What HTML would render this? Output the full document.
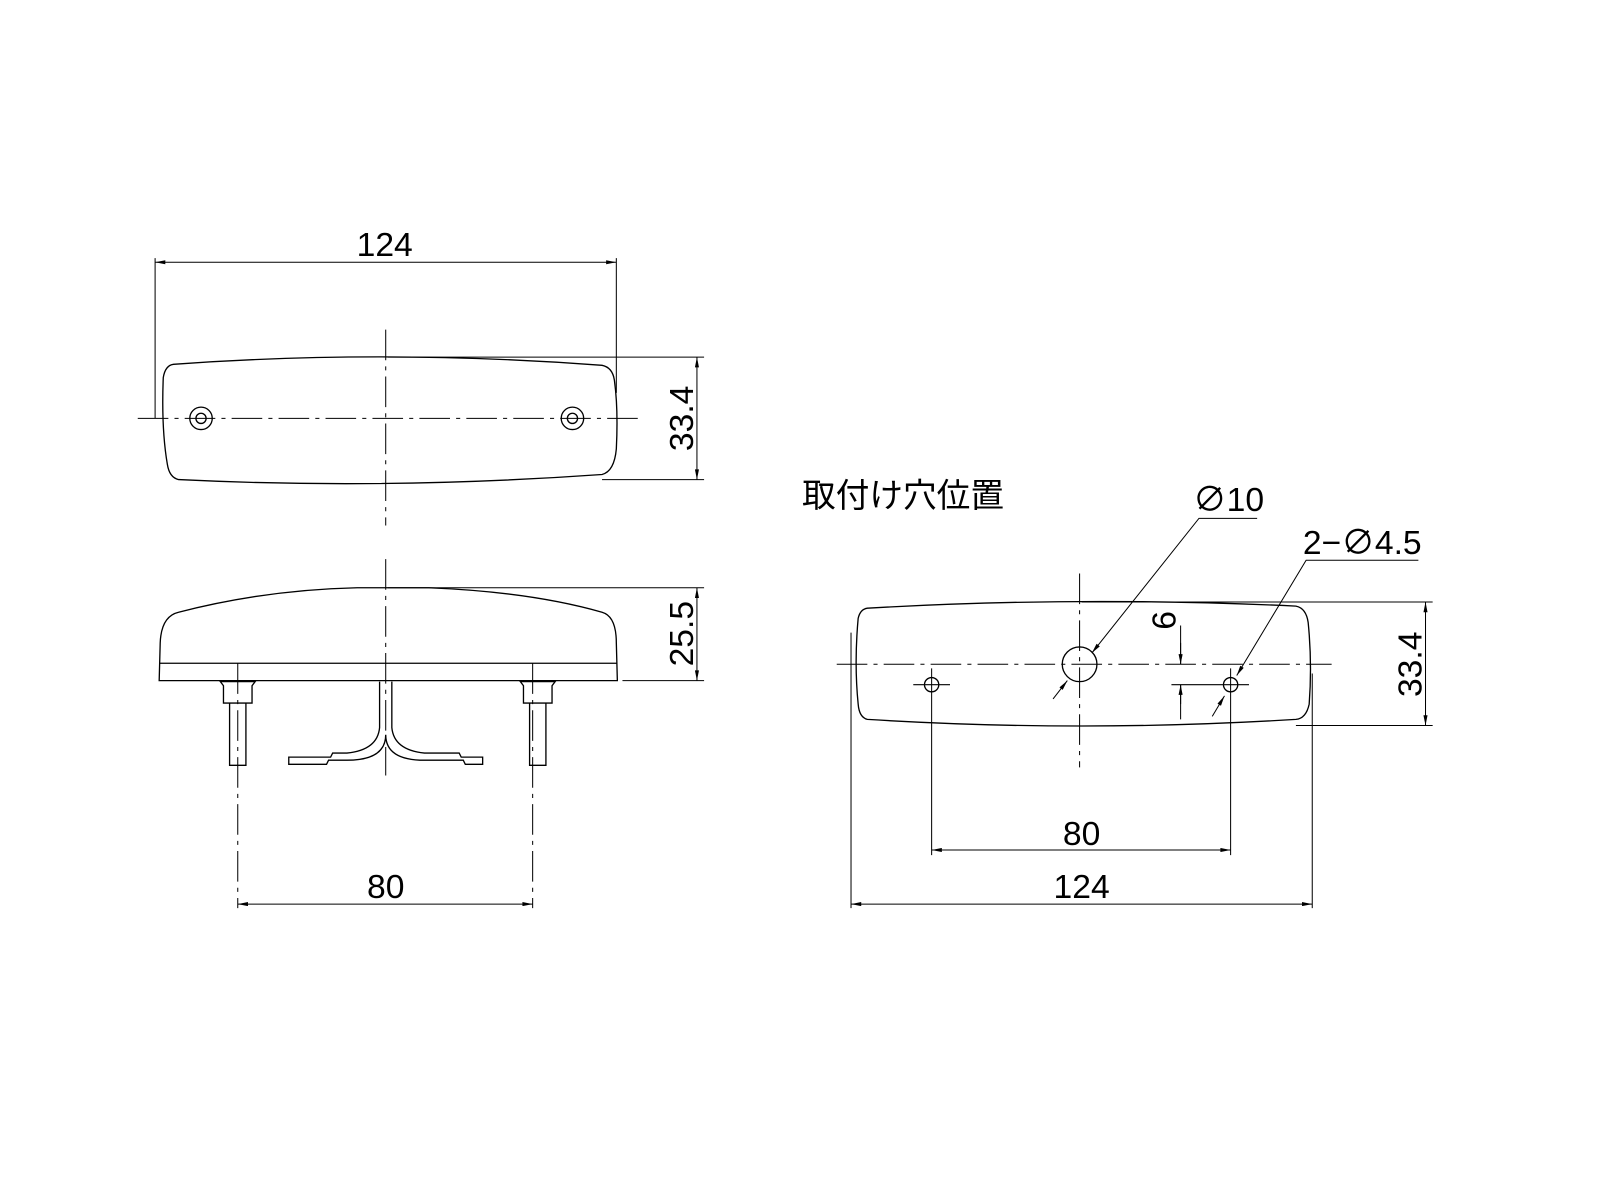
<!DOCTYPE html>
<html><head><meta charset="utf-8"><style>html,body{margin:0;padding:0;background:#fff}svg{display:block}</style></head><body>
<svg width="1600" height="1200" viewBox="0 0 1568 1176" xmlns="http://www.w3.org/2000/svg" font-family="'Liberation Sans','Noto Sans CJK JP',sans-serif">
<defs><marker id="a" viewBox="0 0 10 4" refX="10" refY="2" markerWidth="12" markerHeight="4" markerUnits="userSpaceOnUse" orient="auto-start-reverse"><path d="M0,0L10,2L0,4z" fill="#000"/></marker></defs>
<g fill="none" stroke="#000" stroke-width="1.3">
<path d="M170,357 Q378,342 590,358 Q600,360 602,372 Q606,400 604,440 Q602,462 590,465 Q378,480 175,470 Q166,468 164,455 Q158,420 160,370 Q162,358 170,357Z"/>
<circle cx="197" cy="410" r="11"/><circle cx="197" cy="410" r="5"/>
<circle cx="561" cy="410" r="11"/><circle cx="561" cy="410" r="5"/>
<path d="M135,410H625M378,323V515" stroke-dasharray="30,6,4,6" stroke-width="1"/>
<path d="M152,253V410M604,253V385M380,350H690M590,470H690" stroke-width="1"/>
<path d="M152,257H604" marker-start="url(#a)" marker-end="url(#a)" stroke-width="1"/>
<path d="M683,350V470" marker-start="url(#a)" marker-end="url(#a)" stroke-width="1"/>
<path d="M156,667 L157,630 Q158,604 175,600 Q260,578 350,576 L420,576 Q520,580 590,600 Q604,604 604,630 L605,667 Z"/>
<path d="M156,650H605"/>
<path d="M378,548V760" stroke-dasharray="30,6,4,6" stroke-width="1"/>
<path d="M216,668h34l-3,4v17h-28v-17z M225,689V750h16V689 M510,668h34l-3,4v17h-28v-17z M519,689V750h16V689"/>
<path d="M372,668V713Q370,735 340,738H326L324,742H283V749H320L322,745H340Q378,745 378,720 M384,668V713Q386,735 416,738H450L452,742H473V749H456L454,745H416Q378,745 378,720"/>
<path d="M233,650V890M522,650V890" stroke-dasharray="30,6,4,6" stroke-width="1"/>
<path d="M380,576H690M610,667H690" stroke-width="1"/>
<path d="M683,576V667" marker-start="url(#a)" marker-end="url(#a)" stroke-width="1"/>
<path d="M233,886H522" marker-start="url(#a)" marker-end="url(#a)" stroke-width="1"/>
<path d="M850,596 Q1060,584 1270,594 Q1280,596 1282,610 Q1286,650 1283,690 Q1280,704 1270,705 Q1060,718 850,705 Q842,703 841,690 Q837,650 841,606 Q843,597 850,596Z"/>
<path d="M820,651H1305" stroke-dasharray="30,6,4,6" stroke-width="1"/>
<path d="M1058,562V752" stroke-dasharray="30,6,4,6" stroke-width="1"/>
<circle cx="1058" cy="651" r="17"/>
<circle cx="913" cy="671" r="7"/><circle cx="1206" cy="671" r="7"/>
<path d="M895,671H931M1190,671H1224M1148,671H1212M1206,655V838M913,655V838M834,620V890M1286,660V890M1060,590H1404M1270,711H1404" stroke-width="1"/>
<path d="M1157,651V613M1157,671V705" stroke-width="1"/>
<path d="M1157,630V651" marker-end="url(#a)" stroke-width="1"/>
<path d="M1157,690V671" marker-end="url(#a)" stroke-width="1"/>
<path d="M1397,590V711" marker-start="url(#a)" marker-end="url(#a)" stroke-width="1"/>
<path d="M913,833H1206" marker-start="url(#a)" marker-end="url(#a)" stroke-width="1"/>
<path d="M834,886H1286" marker-start="url(#a)" marker-end="url(#a)" stroke-width="1"/>
<path d="M1232,508H1175L1070,640" stroke-width="1" marker-end="url(#a)"/>
<path d="M1032,685L1046,667" stroke-width="1" marker-end="url(#a)"/>
<path d="M1390,549H1280L1212,662" stroke-width="1" marker-end="url(#a)"/>
<path d="M1188,702L1200,682" stroke-width="1" marker-end="url(#a)"/>
</g>
<g fill="#000" font-size="33" text-anchor="middle">
<text x="377" y="251">124</text>
<text transform="translate(679,410) rotate(-90)">33.4</text>
<text transform="translate(679,621) rotate(-90)">25.5</text>
<text x="378" y="880">80</text>
<text x="1060" y="828">80</text>
<text x="1060" y="880">124</text>
<text transform="translate(1393,651) rotate(-90)">33.4</text>
<text transform="translate(1152,608) rotate(-90)">6</text>
<text x="1204" y="501">∅10</text>
<text x="1335" y="543">2−∅4.5</text>
<text x="786" y="497" text-anchor="start" font-size="33">取付け穴位置</text>
</g>
</svg>
</body></html>
